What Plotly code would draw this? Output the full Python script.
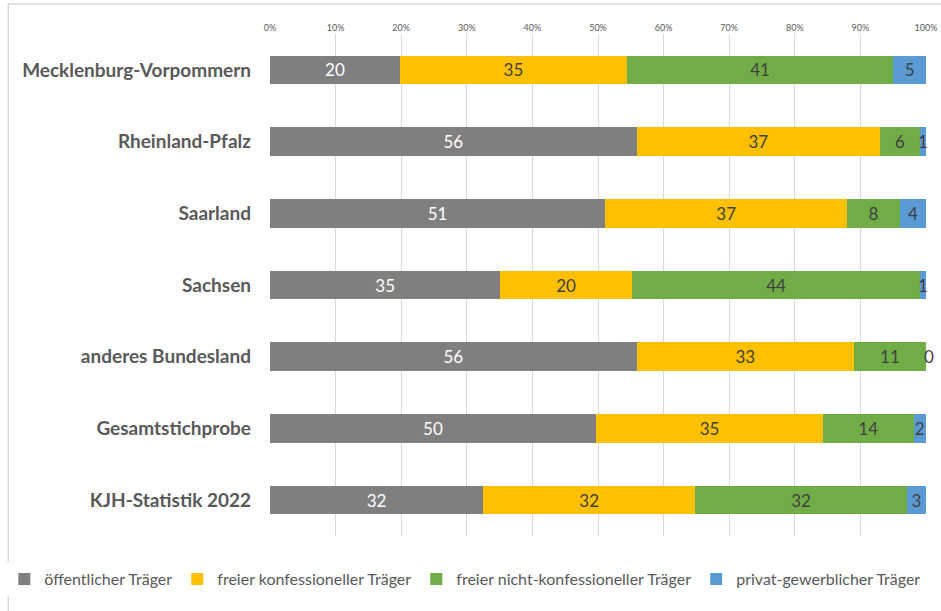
import plotly.graph_objects as go

# Regions, top to bottom
regions = ["Mecklenburg-Vorpommern", "Rheinland-Pfalz", "Saarland", "Sachsen",
           "anderes Bundesland", "Gesamtstichprobe", "KJH-Statistik 2022"]

# shares in percent (labels show rounded values)
oeffentlich = [19.8, 55.9, 51.1, 35.1, 55.9, 49.7, 32.5]
konfessionell = [34.6, 37.1, 36.9, 20.1, 33.1, 34.6, 32.3]
nicht_konfessionell = [40.6, 6.1, 8.0, 43.9, 11.0, 13.8, 32.3]
privat = [5.0, 0.9, 4.0, 0.9, 0.0, 1.9, 2.9]

series = [
    ("öffentlicher Träger", oeffentlich, "#7F7F7F", "white"),
    ("freier konfessioneller Träger", konfessionell, "#FFC000", "#404040"),
    ("freier nicht-konfessioneller Träger", nicht_konfessionell, "#70AD47", "#404040"),
    ("privat-gewerblicher Träger", privat, "#5B9BD5", "#404040"),
]

fig = go.Figure()
for name, vals, col, tcol in series:
    fig.add_trace(go.Bar(
        y=regions, x=vals, name=name, orientation="h",
        marker=dict(color=col, line=dict(width=0)),
        text=[f"{v:.0f}" for v in vals], textposition="inside",
        insidetextanchor="middle", constraintext="none", cliponaxis=False,
        textfont=dict(family="Lato", size=17, color=tcol),
    ))

# zero-width segments still get their label at the bar end
for reg, v in zip(regions, privat):
    if round(v) == 0:
        fig.add_annotation(x=100, y=reg, text=f"{v:.0f}", showarrow=False, xshift=3,
                           xanchor="center", font=dict(family="Lato", size=17, color="#404040"))

fig.update_layout(
    barmode="stack", barnorm="percent", bargap=0.6,
    width=941, height=611,
    margin=dict(l=270, r=15, t=34, b=75, autoexpand=False),
    plot_bgcolor="white", paper_bgcolor="white",
    font=dict(family="Lato", color="#595959"),
    legend=dict(orientation="h", x=-0.405, xanchor="left", y=-0.086, yanchor="middle",
                itemwidth=30, font=dict(size=16, color="#595959"), traceorder="normal"),
    xaxis=dict(side="top", range=[0, 100], dtick=10, ticksuffix="%", automargin=False,
               tickfont=dict(size=9, color="#595959"), showgrid=True,
               gridcolor="#D9D9D9", gridwidth=1, zeroline=False, showline=False,
               fixedrange=True),
    yaxis=dict(autorange="reversed", automargin=False,
               tickfont=dict(family="Lato", size=19, color="#595959", weight="bold"),
               ticklabelstandoff=18, showgrid=False, showline=False),
    shapes=[
        dict(type="line", xref="paper", yref="paper", x0=-0.399, x1=1.03, y0=1.06, y1=1.06,
             line=dict(color="#D9D9D9", width=1.5)),
        dict(type="line", xref="paper", yref="paper", x0=-0.399, x1=-0.399, y0=-0.16, y1=1.06,
             line=dict(color="#D9D9D9", width=1.5)),
    ],
)

# page body has a default 8px margin; drop it so the figure fills the window
fig.write_html("out.html", config={"displayModeBar": False},
               post_script="document.body.style.margin='0';document.body.style.overflow='hidden';")
